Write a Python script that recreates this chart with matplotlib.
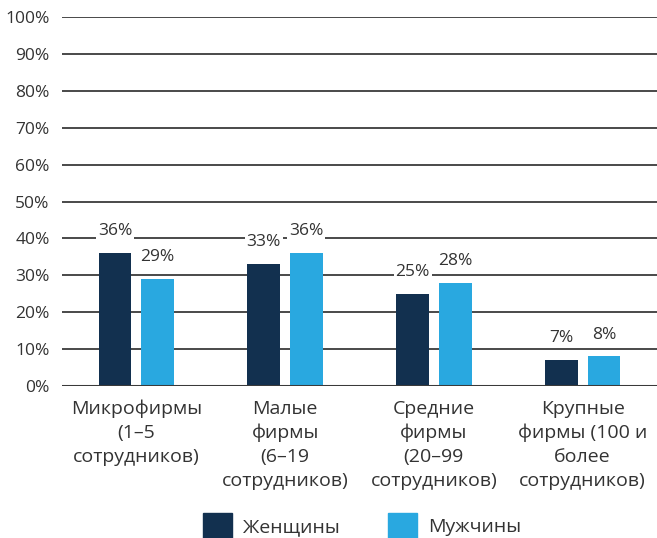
import numpy as np
import matplotlib.pyplot as plt
from matplotlib.patches import Rectangle

# Données
categories = ['Микрофирмы\n(1–5\nсотрудников)',
              'Малые\nфирмы\n(6–19\nсотрудников)',
              'Средние\nфирмы\n(20–99\nсотрудников)',
              'Крупные\nфирмы (100 и\nболее\nсотрудников)']
women = [36, 33, 25, 7]
men = [29, 36, 28, 8]
series_names = ['Женщины', 'Мужчины']
yticks = [0, 10, 20, 30, 40, 50, 60, 70, 80, 90, 100]

c_dark = '#12304f'
c_light = '#29a8e0'
c_text = '#333333'

plt.rcParams['font.family'] = ['Open Sans', 'DejaVu Sans']

fig = plt.figure(figsize=(6.57, 5.38), dpi=100)
ax = fig.add_axes([62/657, 1 - 386/538, 595/657, 369/538])

x = np.arange(len(categories))
w = 0.22
off = 0.143
b1 = ax.bar(x - off, women, w, color=c_dark, zorder=3)
b2 = ax.bar(x + off, men, w, color=c_light, zorder=3)

for bars, vals in ((b1, women), (b2, men)):
    for b, v in zip(bars, vals):
        ax.annotate(f'{v}%', (b.get_x() + b.get_width()/2, v),
                    xytext=(0, 10), textcoords='offset points',
                    ha='center', va='bottom', fontsize=12.5, color=c_text,
                    bbox=dict(boxstyle='square,pad=0.1', fc='white', ec='none'),
                    zorder=4)

ax.set_xlim(-0.5, 3.5)
ax.set_ylim(0, 100)
ax.set_yticks(yticks)
ax.set_yticklabels([f'{t}%' for t in yticks], fontsize=12.5, color=c_text)
ax.set_xticks(x)
ax.set_xticklabels(categories, fontsize=14, color=c_text, linespacing=1.42)
ax.tick_params(axis='y', length=0, pad=9)
ax.tick_params(axis='x', length=0, pad=10)
for t in yticks[1:]:
    ax.axhline(t, color='#3a3a3a', lw=1.3, zorder=1)
ax.axhline(0, color='#3a3a3a', lw=2.2, zorder=5)
for s in ax.spines.values():
    s.set_visible(False)

# Légende
for xl, col, name in ((203, c_dark, series_names[0]), (388, c_light, series_names[1])):
    fig.patches.append(Rectangle((xl/657, 0), 29/657, 25/538, color=col,
                                 transform=fig.transFigure, figure=fig))
    fig.text((xl + 40)/657, 11/538, name, fontsize=14, color=c_text,
             va='center', ha='left')

fig.savefig('out.png', dpi=100)
